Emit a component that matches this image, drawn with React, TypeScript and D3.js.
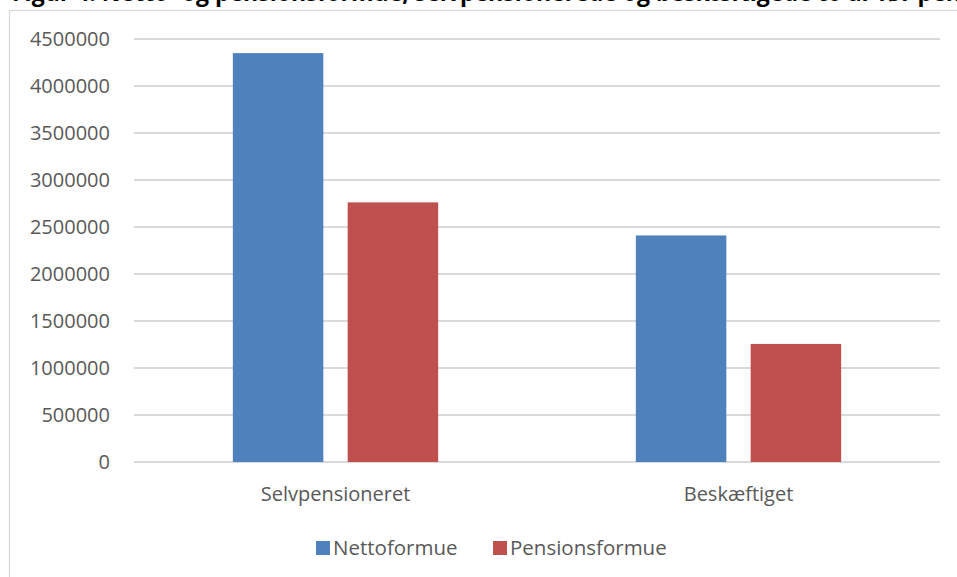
import React, { useEffect, useRef } from "react";
import * as d3 from "d3";

const title = "Figur 4. Netto- og pensionsformue, selvpensionerede og beskæftigede to år før pensionering";
const categories = ["Selvpensioneret", "Beskæftiget"];
const seriesNames = ["Nettoformue", "Pensionsformue"];
const nettoformue = [4350000, 2410000];
const pensionsformue = [2762000, 1256000];
const yTicks = [0, 500000, 1000000, 1500000, 2000000, 2500000, 3000000, 3500000, 4000000, 4500000];
const colors = ["#4f81bd", "#c0504d"];

const W = 957;
const H = 577;
const FONT = "'Open Sans', 'Noto Sans', sans-serif";

export default function App() {
  const ref = useRef<SVGSVGElement>(null);

  useEffect(() => {
    const svg = d3.select(ref.current);
    svg.selectAll("*").remove();

    const values = [nettoformue, pensionsformue];
    const left = 134, right = 940, top = 39, bottom = 462;

    const x0 = d3.scaleBand<string>().domain(categories).range([left, right]).padding(0);
    const groupW = 205.3;
    const x1 = d3.scaleBand<string>().domain(seriesNames).range([0, groupW]).paddingInner(0.212).paddingOuter(0);
    const y = d3.scaleLinear().domain([0, 4500000]).range([bottom, top]);

    svg.append("rect").attr("x", 0).attr("y", 0).attr("width", W).attr("height", H).attr("fill", "#fff");

    // title (clipped at top, as in the reference)
    svg.append("text")
      .attr("x", 12).attr("y", 0.5)
      .attr("font-family", "'Open Sans', sans-serif")
      .attr("font-weight", "bold").attr("font-size", 23).attr("fill", "#000")
      .text(title);

    // chart border
    svg.append("rect").attr("x", 9.5).attr("y", 10.5).attr("width", W + 10).attr("height", H + 10)
      .attr("fill", "#fff").attr("stroke", "#d9d9d9").attr("stroke-width", 1.3);

    // gridlines
    svg.append("g").selectAll("line").data(yTicks).join("line")
      .attr("x1", left).attr("x2", right)
      .attr("y1", (d) => y(d)).attr("y2", (d) => y(d))
      .attr("stroke", "#d9d9d9").attr("stroke-width", 2);

    // y labels
    svg.append("g").selectAll("text").data(yTicks).join("text")
      .attr("x", 110).attr("y", (d) => y(d) + 7)
      .attr("text-anchor", "end")
      .attr("font-family", FONT).attr("font-size", 20).attr("fill", "#595959")
      .text((d) => String(d));

    // bars
    seriesNames.forEach((s, si) => {
      svg.append("g").selectAll("rect").data(values[si]).join("rect")
        .attr("x", (_d, i) => x0(categories[i])! + x0.bandwidth() / 2 - groupW / 2 + x1(s)!)
        .attr("y", (d) => y(d))
        .attr("width", x1.bandwidth())
        .attr("height", (d) => y(0) - y(d))
        .attr("fill", colors[si]);
    });

    // category labels
    svg.append("g").selectAll("text").data(categories).join("text")
      .attr("x", (d) => x0(d)! + x0.bandwidth() / 2).attr("y", 501)
      .attr("text-anchor", "middle")
      .attr("font-family", FONT).attr("font-size", 20).attr("fill", "#595959")
      .text((d) => d);

    // legend
    const legendX = [316, 493];
    seriesNames.forEach((s, si) => {
      svg.append("rect").attr("x", legendX[si]).attr("y", 541).attr("width", 14).attr("height", 14).attr("fill", colors[si]);
      svg.append("text").attr("x", legendX[si] + 17).attr("y", 555)
        .attr("font-family", FONT).attr("font-size", 20.5).attr("fill", "#595959")
        .text(s);
    });
  }, []);

  return (
    <svg ref={ref} width={W} height={H} style={{ position: "absolute", left: 0, top: 0, display: "block" }} />
  );
}
